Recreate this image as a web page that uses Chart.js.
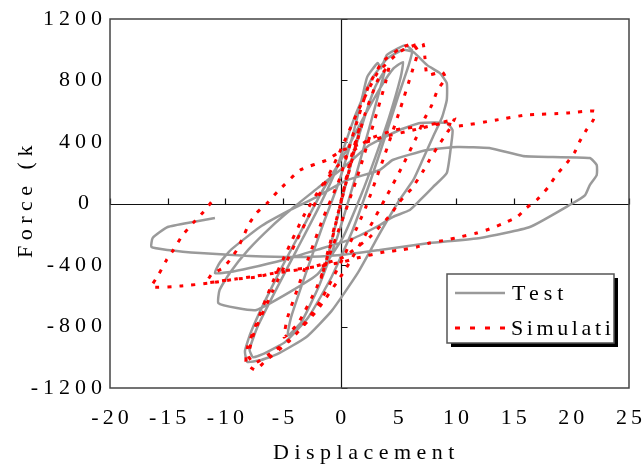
<!DOCTYPE html>
<html>
<head>
<meta charset="utf-8">
<script src="https://cdn.jsdelivr.net/npm/chart.js@4.4.0/dist/chart.umd.min.js"></script>
<style>
  html, body { margin: 0; padding: 0; background: #fff; }
  canvas { display: block; }
</style>
</head>
<body>
<canvas id="hysteresis" width="643" height="468"></canvas>
<script>
const xTicks = [-20, -15, -10, -5, 0, 5, 10, 15, 20, 25];
const yTicks = [-1200, -800, -400, 0, 400, 800, 1200];
const xTitle = 'Displacement';
const yTitle = 'Force (kN)';
const seriesLabels = ['Test', 'Simulation'];

// [displacement, force]
const testCurve = [
  [0,0],[0.8,240],[1.6,470],[1.1,330],[0.2,60],[-0.7,-220],[-1.5,-450],[-1.0,-310],[-0.1,-40],
  [0.8,230],[1.9,520],[3.0,760],[3.8,860],[3.5,770],[2.4,470],[1.2,150],[-0.3,-220],[-1.9,-540],
  [-3.4,-770],[-4.6,-860],[-4.3,-740],[-3.0,-450],[-1.5,-130],[-0.2,130],
  [1.0,430],[1.9,700],[2.3,823],[3.2,913],[3.5,880],[4.0,966],[5.0,1010],[5.6,1030],[6.2,995],
  [5.9,900],[5.0,700],[3.8,420],[2.5,130],[1.0,-180],[-0.8,-480],[-2.8,-740],[-4.8,-900],
  [-6.6,-975],[-7.6,-1000],[-7.9,-950],[-7.2,-800],[-5.6,-560],[-3.8,-300],[-2.0,-40],[-0.5,200],
  [1.2,560],[2.6,800],[4.0,940],[5.4,1000],[6.3,985],[7.5,900],[8.6,848],[9.2,783],[9.2,673],
  [8.8,563],[8.0,433],[7.1,283],[6.3,153],[5.1,23],[3.5,-180],[1.5,-450],[-0.8,-700],[-3.0,-870],
  [-5.5,-980],[-7.0,-1020],[-8.1,-1030],[-8.3,-960],[-7.8,-840],[-6.6,-640],[-5.0,-400],
  [-3.3,-160],[-1.6,80],[0.3,320],[2.0,560],[3.5,760],[4.6,880],[5.4,920],[5.2,820],[4.2,560],
  [3.0,300],[1.8,60],[0.2,-220],[-2.0,-460],[-4.5,-580],[-7.3,-693],[-9.0,-680],[-10.6,-648],
  [-10.5,-563],[-9.6,-450],[-8.0,-300],[-6.0,-150],[-4.0,-20],[-2.0,100],[0.5,250],[2.5,380],
  [5.1,478],[6.9,523],[9.2,523],[9.7,478],[9.6,393],[9.2,198],[8.0,107],[6.9,23],[6.0,-42],
  [4.5,-88],[3.4,-140],[1.0,-230],[-2.0,-300],[-5.0,-367],[-7.9,-420],[-9.6,-446],[-10.9,-452],
  [-10.5,-387],[-9.5,-300],[-7.0,-153],[-4.7,-55],[-2.1,42],[0.5,150],[3.4,218],[4.5,283],
  [7.5,348],[10.1,368],[12.9,361],[15.8,309],[18.4,302],[21.6,296],[22.2,250],[22.2,185],
  [21.6,120],[21.2,55],[20.0,-3],[16.4,-153],[12.1,-224],[7.7,-257],[3.4,-302],[0.0,-335],
  [-3.5,-348],[-7.9,-341],[-12.2,-322],[-15.0,-302],[-16.4,-283],[-16.3,-224],[-15.0,-153],
  [-12.8,-120],[-10.9,-94]
];

const simCurve = [
  [0,0],[0.8,270],[1.7,510],[1.1,330],[0.1,40],[-0.8,-250],[-1.7,-490],[-1.1,-310],[-0.1,-30],
  [0.9,260],[2.1,580],[3.2,800],[4.2,900],[3.9,790],[2.7,480],[1.3,140],[-0.4,-220],[-2.1,-550],
  [-3.7,-780],[-4.9,-870],[-4.6,-740],[-3.2,-440],[-1.6,-110],[-0.1,160],
  [1.2,480],[2.4,760],[3.6,920],[5.0,1000],[6.2,1040],[6.7,990],[6.2,860],[5.1,600],[3.7,290],
  [2.2,-20],[0.3,-340],[-1.8,-640],[-4.0,-860],[-6.2,-980],[-7.5,-1040],[-8.0,-990],[-7.5,-840],
  [-5.9,-570],[-4.0,-270],[-2.1,20],[-0.3,300],
  [1.5,600],[3.2,850],[5.2,990],[7.1,1044],[7.3,953],[7.5,836],[8.8,855],[9.1,816],[8.4,738],
  [7.9,640],[7.3,556],[6.5,420],[5.4,250],[4.0,50],[2.4,-170],[0.4,-430],[-2.0,-690],[-4.4,-890],
  [-6.6,-1030],[-7.4,-1083],[-8.2,-1040],[-8.1,-940],[-7.2,-760],[-6.0,-530],[-4.6,-300],
  [-3.2,-80],[-1.6,120],[0.4,300],[2.5,420],[4.8,480],[7.2,505],[9.5,540],[9.9,556],[9.4,480],
  [9.2,458],[8.4,368],[7.7,283],[7.1,205],[6.2,101],[5.1,10],[4.3,-75],[2.5,-220],[0.2,-350],
  [-2.8,-420],[-5.9,-455],[-7.6,-475],[-9.0,-490],[-10.5,-505],[-11.6,-515],[-11.2,-460],
  [-10.2,-420],[-9.6,-367],[-9.0,-302],[-8.5,-224],[-7.9,-127],[-7.3,-62],[-6.4,0],[-5.5,75],
  [-3.5,218],[-1.2,283],[0.2,348],[3.7,433],[6.3,478],[8.9,523],[10.2,504],[13.5,543],[16.0,575],
  [19.6,588],[22.0,601],[21.9,543],[21.3,478],[20.7,400],[20.3,335],[19.6,263],[18.7,185],
  [18.0,107],[17.0,23],[16.1,-29],[15.3,-88],[14.0,-133],[12.9,-166],[11.8,-192],[10.3,-218],
  [9.2,-237],[7.7,-257],[6.6,-283],[5.3,-302],[3.8,-315],[1.4,-355],[0.2,-380],[-2.0,-410],
  [-5.0,-439],[-7.3,-478],[-9.0,-491],[-11.3,-517],[-13.9,-537],[-16.4,-543],[-15.8,-465],
  [-15.1,-367],[-14.5,-302],[-13.7,-205],[-12.8,-127],[-11.9,-55],[-11.0,29]
];

const FONT = '22px "Liberation Serif", "Times New Roman", serif';
const TEST_COLOR = '#9a9a9a';
const SIM_COLOR = '#ff0000';
const SIM_DASH = [4, 8];

const toPoints = pairs => pairs.map(([x, y]) => ({x, y}));

function spacedText(ctx, text, x, y, spacing) {
  ctx.letterSpacing = spacing + 'px';
  ctx.fillText(text, x, y);
  ctx.letterSpacing = '0px';
}

const frame = {
  id: 'frame',
  beforeDatasetsDraw(chart) {
    const {ctx, chartArea: a, scales: {x, y}} = chart;
    const x0 = Math.round(x.getPixelForValue(0)) + 0.5;
    const y0 = Math.round(y.getPixelForValue(0)) + 0.5;
    ctx.save();
    ctx.strokeStyle = '#111';
    ctx.lineWidth = 1.2;
    ctx.beginPath();
    ctx.moveTo(a.left, y0); ctx.lineTo(a.right, y0);
    ctx.moveTo(x0, a.top); ctx.lineTo(x0, a.bottom);
    xTicks.forEach(v => {
      const px = Math.round(x.getPixelForValue(v)) + 0.5;
      ctx.moveTo(px, y0); ctx.lineTo(px, y0 - 6);
    });
    yTicks.forEach(v => {
      const py = Math.round(y.getPixelForValue(v)) + 0.5;
      ctx.moveTo(x0, py); ctx.lineTo(x0 + 6, py);
    });
    ctx.stroke();
    ctx.restore();
  },
  afterDatasetsDraw(chart) {
    const {ctx, chartArea: a, scales: {x, y}} = chart;
    ctx.save();
    // plot box
    ctx.strokeStyle = '#444';
    ctx.lineWidth = 1.5;
    ctx.strokeRect(a.left, a.top, a.right - a.left, a.bottom - a.top);

    ctx.fillStyle = '#000';
    ctx.font = FONT;
    ctx.textBaseline = 'middle';

    // y tick labels (the zero label sits further left in the original)
    ctx.textAlign = 'right';
    yTicks.forEach(v => {
      const right = v === 0 ? a.left - 16 : a.left - 3;
      spacedText(ctx, String(v), right, y.getPixelForValue(v), 5);
    });

    // x tick labels
    ctx.textAlign = 'center';
    xTicks.forEach(v => {
      spacedText(ctx, String(v), x.getPixelForValue(v) + 2, 418, 4);
    });

    // axis titles
    ctx.textAlign = 'left';
    ctx.textBaseline = 'alphabetic';
    spacedText(ctx, xTitle, 273, 459, 5.5);

    ctx.save();
    ctx.beginPath();
    ctx.rect(0, 141, 60, 130);
    ctx.clip();
    ctx.translate(32, 258);
    ctx.rotate(-Math.PI / 2);
    spacedText(ctx, yTitle, 0, 0, 5.5);
    ctx.restore();
    ctx.restore();
  }
};

const legendBox = {
  id: 'legendBox',
  afterDraw(chart) {
    const {ctx} = chart;
    const bx = 447, by = 274, bw = 167, bh = 69;
    ctx.save();
    ctx.fillStyle = '#000';
    ctx.fillRect(bx + 4, by + 4, bw, bh);
    ctx.fillStyle = '#fff';
    ctx.fillRect(bx, by, bw, bh);
    ctx.strokeStyle = '#555';
    ctx.lineWidth = 1.5;
    ctx.strokeRect(bx, by, bw, bh);

    ctx.lineWidth = 2.5;
    ctx.strokeStyle = TEST_COLOR;
    ctx.beginPath();
    ctx.moveTo(455, 293); ctx.lineTo(505, 293);
    ctx.stroke();

    ctx.lineWidth = 3;
    ctx.strokeStyle = SIM_COLOR;
    ctx.setLineDash([5, 10]);
    ctx.beginPath();
    ctx.moveTo(455, 328); ctx.lineTo(507, 328);
    ctx.stroke();
    ctx.setLineDash([]);

    ctx.beginPath();
    ctx.rect(bx, by, bw, bh);
    ctx.clip();
    ctx.fillStyle = '#000';
    ctx.font = FONT;
    ctx.textAlign = 'left';
    ctx.textBaseline = 'middle';
    spacedText(ctx, seriesLabels[0], 512, 294, 5);
    spacedText(ctx, seriesLabels[1], 511, 329, 3.6);
    ctx.restore();
  }
};

new Chart(document.getElementById('hysteresis').getContext('2d'), {
  type: 'scatter',
  data: {
    datasets: [
      {
        label: seriesLabels[0],
        data: toPoints(testCurve),
        showLine: true,
        borderColor: TEST_COLOR,
        borderWidth: 2.5,
        pointRadius: 0,
        tension: 0.15,
        order: 2
      },
      {
        label: seriesLabels[1],
        data: toPoints(simCurve),
        showLine: true,
        borderColor: SIM_COLOR,
        borderWidth: 3,
        borderDash: SIM_DASH,
        pointRadius: 0,
        tension: 0.15,
        order: 1
      }
    ]
  },
  options: {
    responsive: false,
    animation: false,
    layout: {
      padding: {left: 110, top: 19, right: 14, bottom: 80}
    },
    scales: {
      x: {
        display: false,
        min: xTicks[0],
        max: xTicks[xTicks.length - 1],
        ticks: {stepSize: 5}
      },
      y: {
        display: false,
        min: yTicks[0],
        max: yTicks[yTicks.length - 1],
        ticks: {stepSize: 400}
      }
    },
    plugins: {
      legend: {display: false},
      tooltip: {enabled: false}
    }
  },
  plugins: [frame, legendBox]
});
</script>
</body>
</html>
